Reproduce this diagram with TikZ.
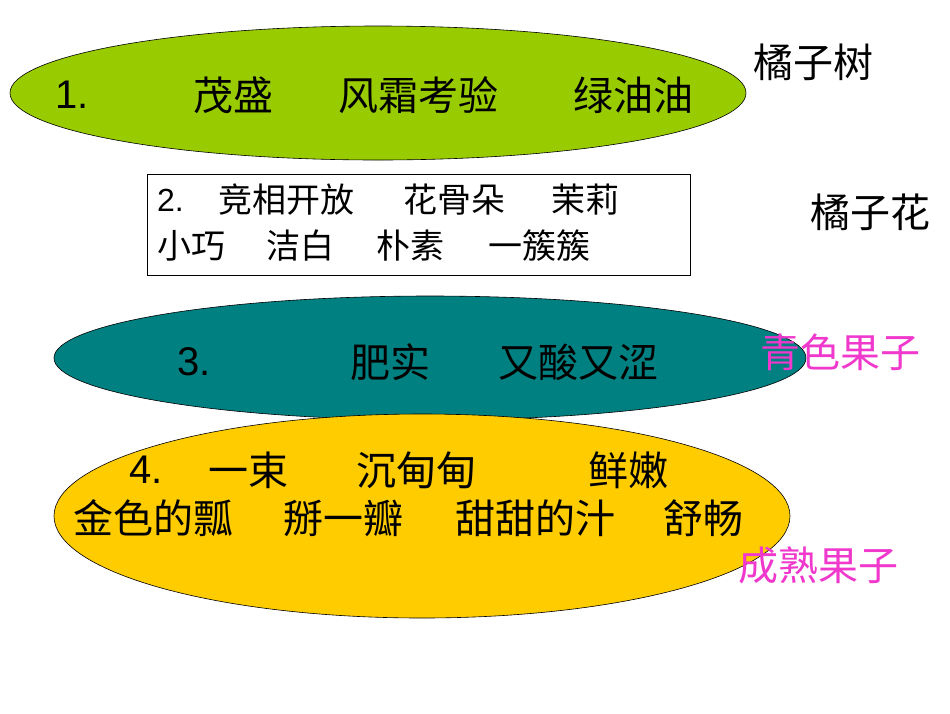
\documentclass[tikz,border=0pt]{standalone}
\usepackage{fontspec}
\setmainfont{Liberation Sans}
\newfontfamily\cjk{Noto Sans CJK SC}
\usetikzlibrary{shapes.geometric}
\definecolor{leafgreen}{RGB}{153,204,0}
\definecolor{tealfill}{RGB}{0,128,128}
\definecolor{goldfill}{RGB}{255,204,0}
\definecolor{tagpink}{RGB}{240,56,204}
\begin{document}
\begin{tikzpicture}[x=1pt,y=-1pt,
  oval/.style={ellipse,draw=black,line width=0.6pt,inner sep=0pt},
  word/.style={anchor=west,inner sep=0pt,font=\cjk\fontsize{40}{44}\selectfont},
  small/.style={anchor=west,inner sep=0pt,font=\cjk\fontsize{34}{38}\selectfont},
  num/.style={anchor=west,inner sep=0pt,font=\fontsize{40}{44}\selectfont}]
  \useasboundingbox[fill=white] (0,0) rectangle (950,713);

  \node[oval,fill=leafgreen,minimum width=736pt,minimum height=134pt] (tree) at (378,93) {};
  \node[draw=black,line width=0.6pt,minimum width=543pt,minimum height=101pt,inner sep=0pt] (flower) at (418.5,224.5) {};
  \node[oval,fill=tealfill,minimum width=752pt,minimum height=124pt] (green) at (430,358) {};
  \node[oval,fill=goldfill,minimum width=736pt,minimum height=204pt] (ripe) at (422,516) {};

  \node[num] (n1) at (55,95) {1.};
  \node[word] (w11) at (193,95) {茂盛};
  \node[word] (w12) at (338,95) {风霜考验};
  \node[word] (w13) at (573,95) {绿油油};
  \node[word] (l1) at (753,62) {橘子树};

  \node[num,font=\fontsize{32}{36}\selectfont] (n2) at (157,200) {2.};
  \node[small] (w21) at (218,200) {竞相开放};
  \node[small] (w22) at (403,200) {花骨朵};
  \node[small] (w23) at (551,200) {茉莉};
  \node[small] (w24) at (157,246) {小巧};
  \node[small] (w25) at (266,246) {洁白};
  \node[small] (w26) at (376,246) {朴素};
  \node[small] (w27) at (488,246) {一簇簇};
  \node[word] (l2) at (810,212) {橘子花};

  \node[num] (n3) at (177,362) {3.};
  \node[word] (w31) at (350,362) {肥实};
  \node[word] (w32) at (498,362) {又酸又涩};
  \node[word,text=tagpink] (l3) at (760,352) {青色果子};

  \node[num] (n4) at (129,470) {4.};
  \node[word] (w41) at (208,470) {一束};
  \node[word] (w42) at (356,470) {沉甸甸};
  \node[word] (w43) at (588,470) {鲜嫩};
  \node[word] (w44) at (73,518) {金色的瓢};
  \node[word] (w45) at (283,518) {掰一瓣};
  \node[word] (w46) at (455,518) {甜甜的汁};
  \node[word] (w47) at (663,518) {舒畅};
  \node[word,text=tagpink] (l4) at (738,565) {成熟果子};
\end{tikzpicture}
\end{document}
